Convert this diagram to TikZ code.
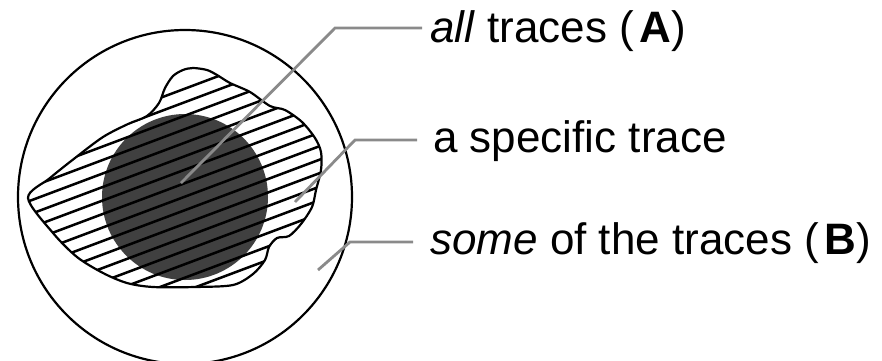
\documentclass[tikz,border=0pt]{standalone}
\usepackage{fontspec}
\setmainfont{Liberation Sans}
\usepackage{tikz}
\usetikzlibrary{calc}
\definecolor{dCore}{RGB}{64,64,64}
\definecolor{dLead}{RGB}{138,138,138}
\tikzset{
  rim/.style={draw=black, line width=2.2pt},
  core/.style={fill=dCore},
  hatch/.style={draw=black, line width=2.5pt},
  outline/.style={draw=black, line width=2.2pt},
  leader/.style={draw=dLead, line width=2.8pt},
  lbl/.style={anchor=base west, inner xsep=8pt, inner ysep=0pt,
              font=\fontsize{44}{50}\selectfont},
}
% outline of the single trace region
\newcommand{\tracepath}{plot[smooth cycle, tension=0.5] coordinates {
  (28,198) (53,233) (77,257) (103,273) (127,283) (153,287) (195,287)
  (233,285) (253,274) (265,260) (269,247) (277,238) (289,236) (301,224)
  (312,207) (316,190) (321,170) (321,152) (315,138) (302,122) (285,110)
  (270,106) (250,92) (230,83) (217,75) (207,70) (193,68) (183,70)
  (173,76) (165,88) (159,103) (147,116) (128,124) (103,137) (75,158)
  (50,178)}}

\begin{document}
\begin{tikzpicture}[x=1pt, y=-1pt]
  \useasboundingbox (0,0) rectangle (882,360);

  % ---- some of the traces ----
  \draw[rim] (185,197) circle (167pt);

  % ---- all traces ----
  \fill[core] (185,197) circle (83pt);

  % ---- a specific trace (hatched) ----
  \begin{scope}
    \clip \tracepath;
    \foreach \c in {158,171.5,...,375}{ \draw[hatch] (0,\c) -- (400,{\c-150}); }
  \end{scope}
  \draw[outline] \tracepath;

  % ---- labels ----
  \node[lbl] (lA) at (422,42) {\textit{all} traces (\hspace{0.12em}\textbf{A})};
  \node[lbl, inner xsep=16pt] (lB) at (417,152) {a specific trace};
  \node[lbl, inner xsep=17pt] (lC) at (413,254)
        {\textit{some} of the traces (\hspace{0.12em}\textbf{B})};

  % ---- leaders ----
  \coordinate (pA) at (181,183); \coordinate (kA) at (335,28);
  \coordinate (pB) at (295,202); \coordinate (kB) at (355,140);
  \coordinate (pC) at (318,270); \coordinate (kC) at (350,242);
  \draw[leader] (pA) -- (kA) -- (kA -| lA.west);
  \draw[leader] (pB) -- (kB) -- (kB -| lB.west);
  \draw[leader] (pC) -- (kC) -- (kC -| lC.west);

\end{tikzpicture}
\end{document}
